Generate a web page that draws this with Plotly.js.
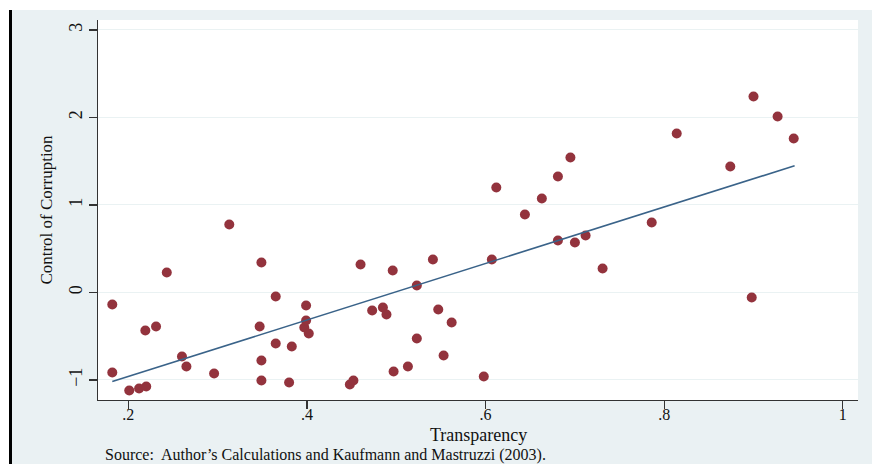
<!DOCTYPE html>
<html>
<head>
<meta charset="utf-8">
<script src="https://cdn.plot.ly/plotly-3.0.1.min.js"></script>
<style>
  html, body { margin: 0; padding: 0; background: #ffffff; }
  #wrap { position: absolute; left: 9px; top: 10px; width: 860px; height: 454px; border-left: 3px solid #000000; }
  #chart { width: 860px; height: 454px; }
</style>
</head>
<body>
<div id="wrap"><div id="chart"></div></div>
<script>
// Transparency index (x) and Control of Corruption (y)
const transparency = [
  0.182, 0.182, 0.201, 0.212, 0.220, 0.219, 0.231, 0.243, 0.260, 0.265,
  0.296, 0.313, 0.349, 0.347, 0.349, 0.349, 0.365, 0.365, 0.380, 0.383,
  0.399, 0.397, 0.399, 0.402, 0.448, 0.452, 0.460, 0.473, 0.485, 0.489,
  0.496, 0.497, 0.513, 0.523, 0.523, 0.541, 0.547, 0.553, 0.562, 0.598,
  0.607, 0.612, 0.644, 0.663, 0.681, 0.681, 0.695, 0.700, 0.712, 0.731,
  0.786, 0.814, 0.874, 0.898, 0.900, 0.927, 0.945
];
const corruption = [
  -0.137, -0.914, -1.120, -1.097, -1.074, -0.434, -0.389, 0.229, -0.731, -0.846,
  -0.926, 0.777, 0.343, -0.389, -0.777, -1.006, -0.046, -0.583, -1.029, -0.617,
  -0.149, -0.400, -0.320, -0.469, -1.051, -1.006, 0.320, -0.206, -0.171, -0.251,
  0.251, -0.903, -0.846, 0.080, -0.526, 0.377, -0.194, -0.720, -0.343, -0.960,
  0.377, 1.200, 0.891, 1.074, 1.326, 0.594, 1.543, 0.571, 0.651, 0.274,
  0.800, 1.817, 1.440, -0.057, 2.240, 2.011, 1.760
];
// Fitted line end points
const fitX = [0.182, 0.946];
const fitY = [-1.018, 1.448];

const xTickVals = [0.2, 0.4, 0.6, 0.8, 1];
const xTickText = ['.2', '.4', '.6', '.8', '1'];
const yTickVals = [-1, 0, 1, 2, 3];
const yTickText = ['\u22121', '0', '1', '2', '3'];

const serif = 'Liberation Serif, Times New Roman, serif';

const traces = [
  {
    type: 'scatter', mode: 'markers',
    x: transparency, y: corruption,
    marker: { color: '#93333d', size: 10, line: { width: 0 } },
    hoverinfo: 'x+y', showlegend: false
  },
  {
    type: 'scatter', mode: 'lines',
    x: fitX, y: fitY,
    line: { color: '#3a6389', width: 1.6 },
    hoverinfo: 'skip', showlegend: false
  }
];

const layout = {
  width: 860, height: 454,
  paper_bgcolor: '#eaf1f3',
  plot_bgcolor: '#ffffff',
  margin: { l: 86, r: 14, t: 10, b: 64 },
  showlegend: false,
  font: { family: serif, color: '#111111', size: 17 },
  xaxis: {
    range: [0.166, 1.017],
    tickvals: xTickVals, ticktext: xTickText,
    ticks: 'outside', ticklen: 8, tickwidth: 1.2, tickcolor: '#333333',
    ticklabelstandoff: -9,
    showline: true, linecolor: '#333333', linewidth: 1.3,
    showgrid: false, zeroline: false,
    tickfont: { family: serif, size: 16, color: '#111111' },
    automargin: false
  },
  yaxis: {
    range: [-1.229, 3.114],
    tickvals: yTickVals, ticktext: yTickText,
    tickangle: -90,
    ticks: 'outside', ticklen: 8, tickwidth: 1.2, tickcolor: '#333333',
    showline: true, linecolor: '#333333', linewidth: 1.3,
    showgrid: true, gridcolor: '#eaf2f3', gridwidth: 1, zeroline: false,
    tickfont: { family: serif, size: 18, color: '#111111' },
    title: { text: 'Control of Corruption', font: { family: serif, size: 17, color: '#111111' }, standoff: 8 },
    automargin: false
  },
  annotations: [
    {
      text: 'Transparency',
      xref: 'paper', yref: 'paper', x: 0.5, y: 0,
      xanchor: 'center', yanchor: 'middle',
      yshift: -34.5,
      showarrow: false,
      font: { family: serif, size: 18, color: '#111111' }
    },
    {
      text: "Source:  Author\u2019s Calculations and Kaufmann and Mastruzzi (2003).",
      xref: 'paper', yref: 'paper', x: 0, y: 0,
      xanchor: 'left', yanchor: 'middle',
      xshift: 5, yshift: -54.5,
      showarrow: false,
      font: { family: serif, size: 16, color: '#111111' }
    }
  ]
};

Plotly.newPlot('chart', traces, layout, { displayModeBar: false, staticPlot: true });
</script>
</body>
</html>
